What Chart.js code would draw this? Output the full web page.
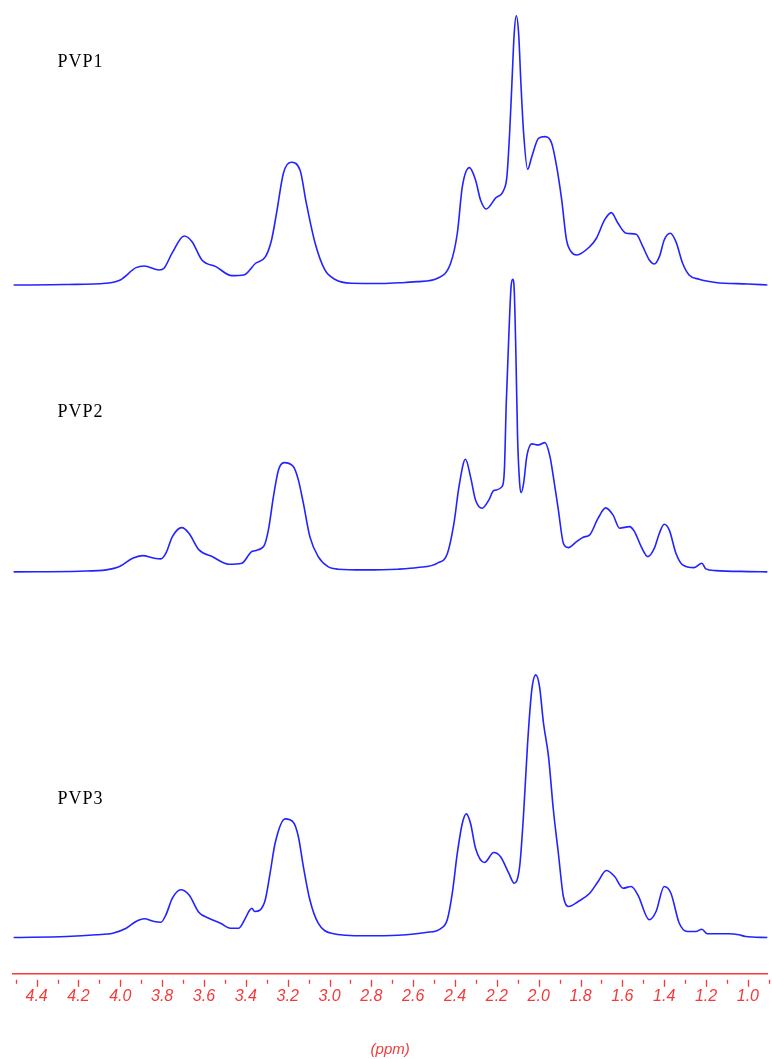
<!DOCTYPE html>
<html>
<head>
<meta charset="utf-8">
<title>PVP 1H NMR</title>
<script src="https://cdn.jsdelivr.net/npm/chart.js@4"></script>
<style>
  html, body { margin: 0; padding: 0; background: #fff; }
  #wrap { width: 772px; height: 1059px; }
</style>
</head>
<body>
<div id="wrap"><canvas id="nmr"></canvas></div>
<script>
// 1H NMR spectra of three PVP samples, stacked, sharing one ppm axis.

const traceNames = ['PVP1', 'PVP2', 'PVP3'];

// [chemical shift (ppm), intensity]
const pvp1 = [
  [4.51, 0], [4.47, 0], [4.25, 0.5], [4.07, 1.7], [4.00, 5], [3.925, 17.3], [3.886, 19],
  [3.814, 15], [3.791, 16.7], [3.752, 32], [3.695, 49], [3.657, 43.3], [3.610, 25],
  [3.543, 18.3], [3.467, 9.3], [3.410, 10], [3.353, 21.7], [3.306, 28.3], [3.277, 45],
  [3.253, 72], [3.220, 112], [3.184, 122.7], [3.141, 115], [3.111, 82], [3.069, 42],
  [3.022, 15], [2.975, 5.7], [2.897, 1.7], [2.75, 1.5], [2.64, 2.5], [2.579, 3.3],
  [2.484, 6.7], [2.421, 21.7], [2.389, 51.7], [2.365, 98.3], [2.331, 117.3], [2.302, 105],
  [2.278, 85], [2.251, 76], [2.207, 86.7], [2.167, 95], [2.152, 108.3], [2.139, 151.7],
  [2.128, 201.7], [2.117, 251.7], [2.107, 269.3], [2.096, 252], [2.085, 201.7],
  [2.072, 151.7], [2.053, 115.7], [2.033, 128.3], [2.001, 146.7], [1.970, 148.3],
  [1.938, 141.7], [1.914, 118.3], [1.890, 85], [1.867, 45], [1.843, 32.7], [1.819, 30],
  [1.756, 38.3], [1.724, 46.7], [1.685, 65], [1.653, 72.3], [1.621, 61.7], [1.582, 51.7],
  [1.534, 50.7], [1.502, 38.3], [1.471, 25], [1.447, 21], [1.423, 28.3], [1.400, 45],
  [1.371, 51.7], [1.344, 43.3], [1.312, 21.7], [1.281, 10], [1.233, 5.7], [1.154, 2.5],
  [1.0, 1], [0.907, 0]
];

const pvp2 = [
  [4.51, 0], [4.194, 0.7], [4.067, 2], [4.004, 5.3], [3.941, 13.7], [3.894, 16.3],
  [3.838, 13.7], [3.806, 13], [3.782, 18.7], [3.751, 35.3], [3.706, 44.3], [3.672, 38.7],
  [3.624, 22], [3.561, 15.3], [3.482, 7.7], [3.419, 8.7], [3.371, 20.3], [3.315, 25.3],
  [3.292, 42], [3.268, 75.3], [3.244, 102], [3.217, 109.3], [3.173, 105.3], [3.149, 92],
  [3.125, 68.7], [3.094, 35.3], [3.054, 15.3], [3.007, 5.3], [2.959, 2.7], [2.832, 2],
  [2.674, 2.7], [2.579, 4.3], [2.484, 8.7], [2.436, 18.7], [2.405, 48.7], [2.381, 85.3],
  [2.350, 112.7], [2.326, 95.3], [2.302, 72], [2.270, 63.7], [2.238, 72], [2.215, 81.3],
  [2.175, 85.3], [2.164, 102], [2.155, 168.7], [2.143, 235.3], [2.132, 285.3],
  [2.124, 292.7], [2.117, 282], [2.109, 218.7], [2.101, 135.3], [2.091, 88.7],
  [2.084, 79.3], [2.072, 88.7], [2.057, 115.3], [2.033, 128], [2.001, 127], [1.970, 129.3],
  [1.946, 115.3], [1.930, 95.3], [1.906, 62], [1.882, 28.7], [1.858, 24.3], [1.819, 30.3],
  [1.787, 34.7], [1.756, 37], [1.716, 53.7], [1.680, 64], [1.645, 57], [1.613, 43.7],
  [1.566, 45.3], [1.542, 40.3], [1.510, 25.3], [1.478, 15.3], [1.447, 23.7], [1.423, 38.7],
  [1.400, 47.7], [1.376, 42], [1.344, 18.7], [1.312, 7], [1.257, 4.3], [1.220, 8.7],
  [1.201, 3], [1.154, 1.3], [0.997, 0.3], [0.907, 0]
];

const pvp3 = [
  [4.51, 0], [4.257, 1], [4.115, 2.7], [4.036, 4.3], [3.972, 9.3], [3.925, 16], [3.886, 18.7],
  [3.838, 16], [3.806, 15.3], [3.782, 22.7], [3.751, 39.3], [3.711, 47.7], [3.672, 42.7],
  [3.624, 25], [3.577, 19.3], [3.521, 14.3], [3.474, 9.3], [3.434, 9.3], [3.402, 19.3],
  [3.383, 27], [3.371, 29.3], [3.358, 26], [3.331, 27.7], [3.307, 37.7], [3.284, 64.3],
  [3.260, 94.3], [3.212, 118.7], [3.173, 115.3], [3.149, 101], [3.125, 71], [3.094, 37.7],
  [3.054, 14.3], [2.991, 4.3], [2.832, 1.7], [2.674, 2.3], [2.540, 5], [2.468, 9],
  [2.437, 17.7], [2.413, 44.3], [2.389, 84.3], [2.365, 114.3], [2.346, 123.7],
  [2.326, 114.3], [2.302, 89.3], [2.259, 75], [2.215, 85], [2.183, 81], [2.143, 64.3],
  [2.117, 54.3], [2.091, 71], [2.072, 124.3], [2.053, 194.3], [2.033, 247.7],
  [2.014, 262.7], [1.996, 251], [1.977, 214.3], [1.953, 181], [1.930, 128], [1.906, 84.3],
  [1.882, 41], [1.858, 31], [1.811, 36], [1.756, 44.3], [1.716, 56], [1.677, 67],
  [1.637, 61], [1.597, 49.3], [1.558, 51], [1.526, 42.7], [1.471, 17.7], [1.439, 26],
  [1.400, 51], [1.368, 44.3], [1.328, 14.3], [1.289, 6], [1.249, 6], [1.220, 8.3],
  [1.194, 3.7], [1.091, 3.7], [1.043, 2.7], [1.011, 1], [0.907, 0]
];

// ppm axis: labelled ticks every 0.2, short ticks in between
const majorTicks = [4.4, 4.2, 4.0, 3.8, 3.6, 3.4, 3.2, 3.0, 2.8, 2.6, 2.4, 2.2, 2.0, 1.8, 1.6, 1.4, 1.2, 1.0];
const minorTicks = [4.5, 4.3, 4.1, 3.9, 3.7, 3.5, 3.3, 3.1, 2.9, 2.7, 2.5, 2.3, 2.1, 1.9, 1.7, 1.5, 1.3, 1.1, 0.9];

const LINE_BLUE = '#2323ff';
const AXIS_RED = '#f23a3a';

// tick marks hang a few pixels below the axis line, not touching it
const ppmTickMarks = {
  id: 'ppmTickMarks',
  afterDraw(chart) {
    const xs = chart.scales.x;
    const ctx = chart.ctx;
    const top = xs.top;
    ctx.save();
    ctx.strokeStyle = AXIS_RED;
    ctx.lineWidth = 1.3;
    const mark = (v, len) => {
      const px = Math.round(xs.getPixelForValue(v)) + 0.5;
      ctx.beginPath();
      ctx.moveTo(px, top + 6);
      ctx.lineTo(px, top + 6 + len);
      ctx.stroke();
    };
    minorTicks.forEach(v => mark(v, 4));
    majorTicks.forEach(v => mark(v, 7));
    ctx.restore();
  }
};

// sample name written above each trace
const traceLabels = {
  id: 'traceLabels',
  afterDatasetsDraw(chart, args, opts) {
    const ctx = chart.ctx;
    const xs = chart.scales.x;
    ctx.save();
    ctx.fillStyle = '#000';
    ctx.font = '18px "Liberation Serif", "Times New Roman", serif';
    ctx.textBaseline = 'middle';
    if ('letterSpacing' in ctx) ctx.letterSpacing = '1px';
    chart.data.datasets.forEach((ds, i) => {
      const ys = chart.scales[ds.yAxisID];
      ctx.fillText(ds.label, xs.getPixelForValue(opts.at), ys.getPixelForValue(opts.levels[i]));
    });
    ctx.restore();
  }
};

const series = [pvp1, pvp2, pvp3];

const datasets = series.map((pts, i) => ({
  label: traceNames[i],
  data: pts.map(([x, y]) => ({ x, y })),
  yAxisID: 'y' + (i + 1),
  borderColor: LINE_BLUE,
  borderWidth: 1.6,
  pointRadius: 0,
  fill: false,
  clip: false,
  cubicInterpolationMode: 'monotone'
}));

const hiddenY = (min, max, weight) => ({
  type: 'linear',
  display: false,
  stack: 'spectra',
  stackWeight: weight,
  min,
  max
});

new Chart(document.getElementById('nmr'), {
  type: 'line',
  data: { datasets },
  plugins: [ppmTickMarks, traceLabels],
  options: {
    responsive: true,
    maintainAspectRatio: false,
    animation: false,
    devicePixelRatio: 1,
    layout: { padding: { left: 13, right: 0, top: 0, bottom: 0 } },
    plugins: {
      legend: { display: false },
      tooltip: { enabled: false },
      traceLabels: { at: 4.30, levels: [223, 160, 138] }
    },
    scales: {
      x: {
        type: 'linear',
        reverse: true,
        min: 0.907,
        max: 4.513,
        afterBuildTicks: scale => { scale.ticks = majorTicks.map(v => ({ value: v })); },
        grid: { display: false, drawTicks: false },
        border: { display: true, color: AXIS_RED, width: 1.6 },
        ticks: {
          autoSkip: false,
          maxRotation: 0,
          padding: 13,
          color: AXIS_RED,
          font: { family: '"Liberation Sans Narrow", "Liberation Sans", Arial, sans-serif', size: 16, style: 'italic' },
          callback: v => Number(v).toFixed(1)
        },
        title: {
          display: true,
          text: '(ppm)',
          color: AXIS_RED,
          font: { family: '"Liberation Sans", Arial, sans-serif', size: 15, style: 'italic' },
          padding: { top: 22, bottom: 0 }
        }
      },
      // stacked left axes are laid out last-defined on top
      y3: hiddenY(-36.3, 357.7, 394),
      y2: hiddenY(-8, 282, 290),
      y1: hiddenY(-5, 285, 290)
    }
  }
});
</script>
</body>
</html>
